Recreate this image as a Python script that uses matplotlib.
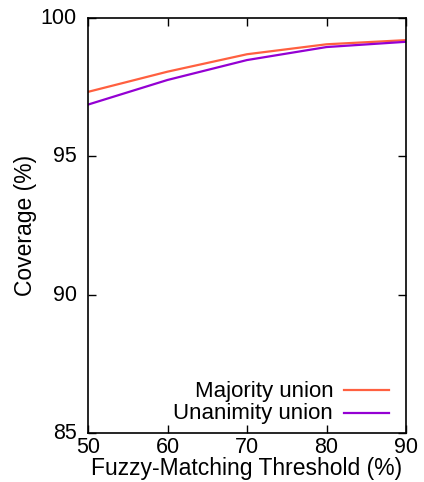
import matplotlib
matplotlib.use("Agg")
import matplotlib.pyplot as plt
from matplotlib.lines import Line2D
from matplotlib.transforms import ScaledTranslation

plt.rcParams['font.family'] = ['Liberation Sans', 'DejaVu Sans']

# data
thresholds = [50, 60, 70, 80, 90]
majority = [97.33, 98.06, 98.69, 99.05, 99.20]
unanimity = [96.87, 97.76, 98.48, 98.95, 99.14]
labels = ["Majority union", "Unanimity union"]
colors = ["#ff6040", "#9400d3"]

fig = plt.figure(figsize=(4.24, 4.82), dpi=100)
ax = fig.add_axes([88/424, 49/482, 318/424, 415/482])

ax.plot(thresholds, majority, color=colors[0], lw=1.6)
ax.plot(thresholds, unanimity, color=colors[1], lw=1.6)

ax.set_xlim(50, 90)
ax.set_ylim(85, 100)
ax.set_xticks([50, 60, 70, 80, 90])
ax.set_yticks([85, 90, 95, 100])
ax.tick_params(direction='in', length=6, width=1, top=True, right=True,
               labelsize=15.5, pad=3)
ax.tick_params(axis='y', pad=8)
# gnuplot puts y labels a touch above the tick
shift = ScaledTranslation(0, 2/100, fig.dpi_scale_trans)
for lab in ax.get_yticklabels():
    lab.set_transform(lab.get_transform() + shift)
for s in ax.spines.values():
    s.set_linewidth(1.2)

ax.set_xlabel("Fuzzy-Matching Threshold (%)", fontsize=16.5, labelpad=-1)
ax.set_ylabel("Coverage (%)", fontsize=16.5, labelpad=3)

# gnuplot-style key: right-aligned text with the sample on the right
key_y = [0.101, 0.046]
for lab, col, yy in zip(labels, colors, key_y):
    ax.text(0.771, yy, lab, transform=ax.transAxes, ha='right', va='center',
            fontsize=16)
    ax.add_line(Line2D([0.805, 0.946], [yy + 0.002, yy + 0.002], color=col,
                       lw=1.6, transform=ax.transAxes))

fig.savefig("out.png", dpi=100)
